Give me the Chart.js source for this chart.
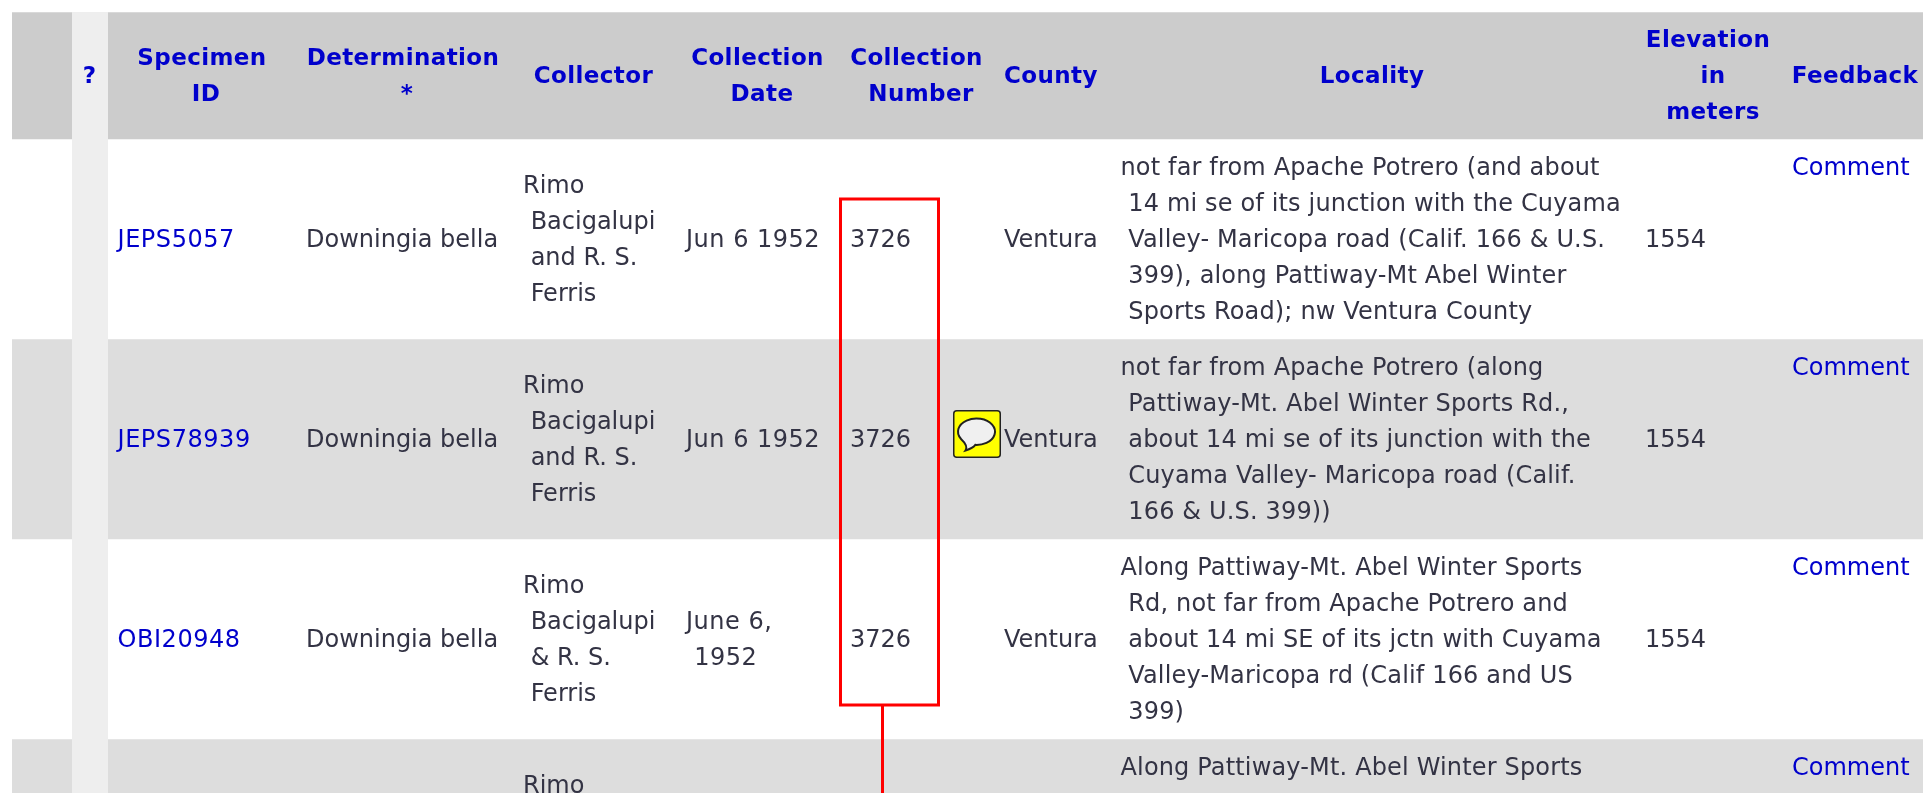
<!DOCTYPE html>
<html>
<head>
<meta charset="utf-8">
<title>Specimen table</title>
<script src="https://cdn.jsdelivr.net/npm/chart.js@4"></script>
<style>
    html, body { margin: 0; padding: 0; background: #fff; overflow: hidden; }
    #wrap { width: 1923px; height: 793px; }
</style>
</head>
<body>
<div id="wrap"><canvas id="myChart" width="1923" height="793"></canvas></div>
<script>
// table content
const headers = [["?"], ["Specimen", "ID"], ["Determination", "*"], ["Collector"], ["Collection", "Date"],
    ["Collection", "Number"], ["County"], ["Locality"], ["Elevation", "in", "meters"], ["Feedback"]];
const specimenIds = ["JEPS5057", "JEPS78939", "OBI20948"];
const determinations = ["Downingia bella", "Downingia bella", "Downingia bella"];
const collectors = [
    ["Rimo", " Bacigalupi", " and R. S.", " Ferris"],
    ["Rimo", " Bacigalupi", " and R. S.", " Ferris"],
    ["Rimo", " Bacigalupi", " & R. S.", " Ferris"],
    ["Rimo"]
];
const dates = [["Jun 6 1952"], ["Jun 6 1952"], ["June 6,", " 1952"]];
const numbers = ["3726", "3726", "3726"];
const counties = ["Ventura", "Ventura", "Ventura"];
const localities = [
    ["not far from Apache Potrero (and about", " 14 mi se of its junction with the Cuyama", " Valley- Maricopa road (Calif. 166 & U.S.", " 399), along Pattiway-Mt Abel Winter", " Sports Road); nw Ventura County"],
    ["not far from Apache Potrero (along", " Pattiway-Mt. Abel Winter Sports Rd.,", " about 14 mi se of its junction with the", " Cuyama Valley- Maricopa road (Calif.", " 166 & U.S. 399))"],
    ["Along Pattiway-Mt. Abel Winter Sports", " Rd, not far from Apache Potrero and", " about 14 mi SE of its jctn with Cuyama", " Valley-Maricopa rd (Calif 166 and US", " 399)"],
    ["Along Pattiway-Mt. Abel Winter Sports"]
];
const elevations = ["1554", "1554", "1554"];
const feedback = ["Comment", "Comment", "Comment", "Comment"];

// row bands, top to bottom: margin, header, then the data rows
const bandNames = ["margin", "header", "row1", "row2", "row3", "row4"];
const bandHeights = [12, 127, 200, 200, 200, 54];
const bandColors = ["#ffffff", "#cccccc", "#ffffff", "#dddddd", "#ffffff", "#dddddd"];

// column positions on the x axis
const headerCenters = [[89.5], [202, 206], [403, 407], [593.5], [757.5, 762], [916.5, 921], [1051], [1372], [1708, 1713, 1713], [1855]];
const columnLefts = { id: 117.5, det: 306, coll: 523, date: 686, num: 850, county: 1004, loc: 1120.5, elev: 1645, fb: 1792 };
const rowCenters = [239, 439, 639, 839];
const headerCenter = 75;
const lineHeight = 36;

// red marker box and its stem
const boxXs = [840.5, 938.5, 938.5, 840.5, 840.5];
const boxYs = [199, 199, 705, 705, 199];
const stemXs = [882.5, 882.5];
const stemYs = [705, 793];
const helpColX = [90, 90];
const helpColY = [12, 793];
const iconX = [977];
const iconY = [434];

const LINK = "#0000cc";
const TEXT = "#333344";
const BODY_FONT = "24px 'DejaVu Sans'";
const HEAD_FONT = "bold 23px 'DejaVu Sans'";

function makeIcon() {
    const c = document.createElement("canvas");
    c.width = 48; c.height = 48;
    const g = c.getContext("2d");
    g.fillStyle = "#ffff00";
    g.strokeStyle = "#222222";
    g.lineWidth = 1.5;
    g.beginPath();
    g.roundRect(0.75, 0.75, 46.5, 46.5, 3);
    g.fill();
    g.stroke();
    g.fillStyle = "#f0f0f0";
    g.lineWidth = 2;
    g.beginPath();
    g.ellipse(23.5, 21.7, 18.5, 13.2, 0, 0.82 * Math.PI, 0.52 * Math.PI);
    g.quadraticCurveTo(20, 38, 12.5, 40.5);
    g.quadraticCurveTo(15.5, 36, 8, 29);
    g.closePath();
    g.fill();
    g.stroke();
    return c;
}

function toPoints(xs, ys) {
    return xs.map((x, i) => ({ x: x, y: ys[i] }));
}

const tableText = {
    id: "tableText",
    afterDatasetsDraw(chart) {
        const ctx = chart.ctx;
        const xp = chart.scales.xp;
        const yp = chart.scales.yp;
        function put(str, x, y, color, font, align, spacing) {
            ctx.font = font;
            ctx.fillStyle = color;
            ctx.textAlign = align || "left";
            ctx.letterSpacing = (spacing || 0) + "px";
            ctx.fillText(str, xp.getPixelForValue(x), yp.getPixelForValue(y + 8));
        }
        // lines are centred round a row's middle
        function block(lines, x, center, color, spacing) {
            const top = center - (lines.length - 1) * lineHeight / 2;
            lines.forEach((l, i) => put(l, x, top + i * lineHeight, color, BODY_FONT, "left", spacing));
        }
        ctx.save();
        ctx.textBaseline = "alphabetic";
        headers.forEach((lines, c) => {
            const top = headerCenter - (lines.length - 1) * lineHeight / 2;
            lines.forEach((l, i) => put(l, headerCenters[c][i], top + i * lineHeight, LINK, HEAD_FONT, "center", 0.4));
        });
        rowCenters.forEach((mid, r) => {
            const locTop = mid - 2 * lineHeight;
            block(collectors[r], columnLefts.coll, r < 3 ? mid : mid - 1.5 * lineHeight, TEXT);
            localities[r].forEach((l, i) => put(l, columnLefts.loc, locTop + i * lineHeight, TEXT, BODY_FONT, "left", 0.16));
            put(feedback[r], columnLefts.fb, locTop, LINK, BODY_FONT);
            if (r > 2) return;
            put(specimenIds[r], columnLefts.id, mid, LINK, BODY_FONT, "left", 0.55);
            put(determinations[r], columnLefts.det, mid, TEXT, BODY_FONT);
            block(dates[r], columnLefts.date, mid, TEXT, 0.5);
            put(numbers[r], columnLefts.num, mid, TEXT, BODY_FONT);
            put(counties[r], columnLefts.county, mid, TEXT, BODY_FONT);
            put(elevations[r], columnLefts.elev, mid, TEXT, BODY_FONT);
        });
        ctx.restore();
    }
};

const bandSets = bandNames.map((name, i) => ({
    type: "bar",
    label: name,
    data: [bandHeights[i]],
    backgroundColor: bandColors[i],
    borderWidth: 0,
    barPercentage: 1,
    categoryPercentage: 1,
    grouped: false,
    xAxisID: "x",
    yAxisID: "y",
    order: 10
}));

function lineSet(label, xs, ys, color, width, order, cap) {
    return {
        type: "line",
        label: label,
        data: toPoints(xs, ys),
        borderColor: color,
        borderWidth: width,
        pointRadius: 0,
        tension: 0,
        fill: false,
        borderCapStyle: cap || "butt",
        borderJoinStyle: "miter",
        xAxisID: "xp",
        yAxisID: "yp",
        order: order
    };
}

const chart = new Chart(document.getElementById("myChart").getContext("2d"), {
    data: {
        labels: ["table"],
        datasets: [
            ...bandSets,
            lineSet("help column", helpColX, helpColY, "#eeeeee", 36, 5),
            lineSet("marker box", boxXs, boxYs, "#ff0000", 3, 2, "square"),
            lineSet("marker stem", stemXs, stemYs, "#ff0000", 3, 2),
            {
                type: "line",
                label: "comment icon",
                data: toPoints(iconX, iconY),
                showLine: false,
                pointStyle: makeIcon(),
                pointRadius: 24,
                xAxisID: "xp",
                yAxisID: "yp",
                order: 3
            }
        ]
    },
    options: {
        responsive: false,
        animation: false,
        layout: { autoPadding: false, padding: { left: 12, right: 0, top: 0, bottom: 0 } },
        plugins: { legend: { display: false }, tooltip: { enabled: false } },
        scales: {
            x: { display: false, stacked: true, offset: true },
            y: { display: false, stacked: true, reverse: true, min: 0, max: 793 },
            xp: { type: "linear", display: false, min: 12, max: 1923 },
            yp: { type: "linear", display: false, reverse: true, min: 0, max: 793 }
        }
    },
    plugins: [tableText]
});
</script>
</body>
</html>
